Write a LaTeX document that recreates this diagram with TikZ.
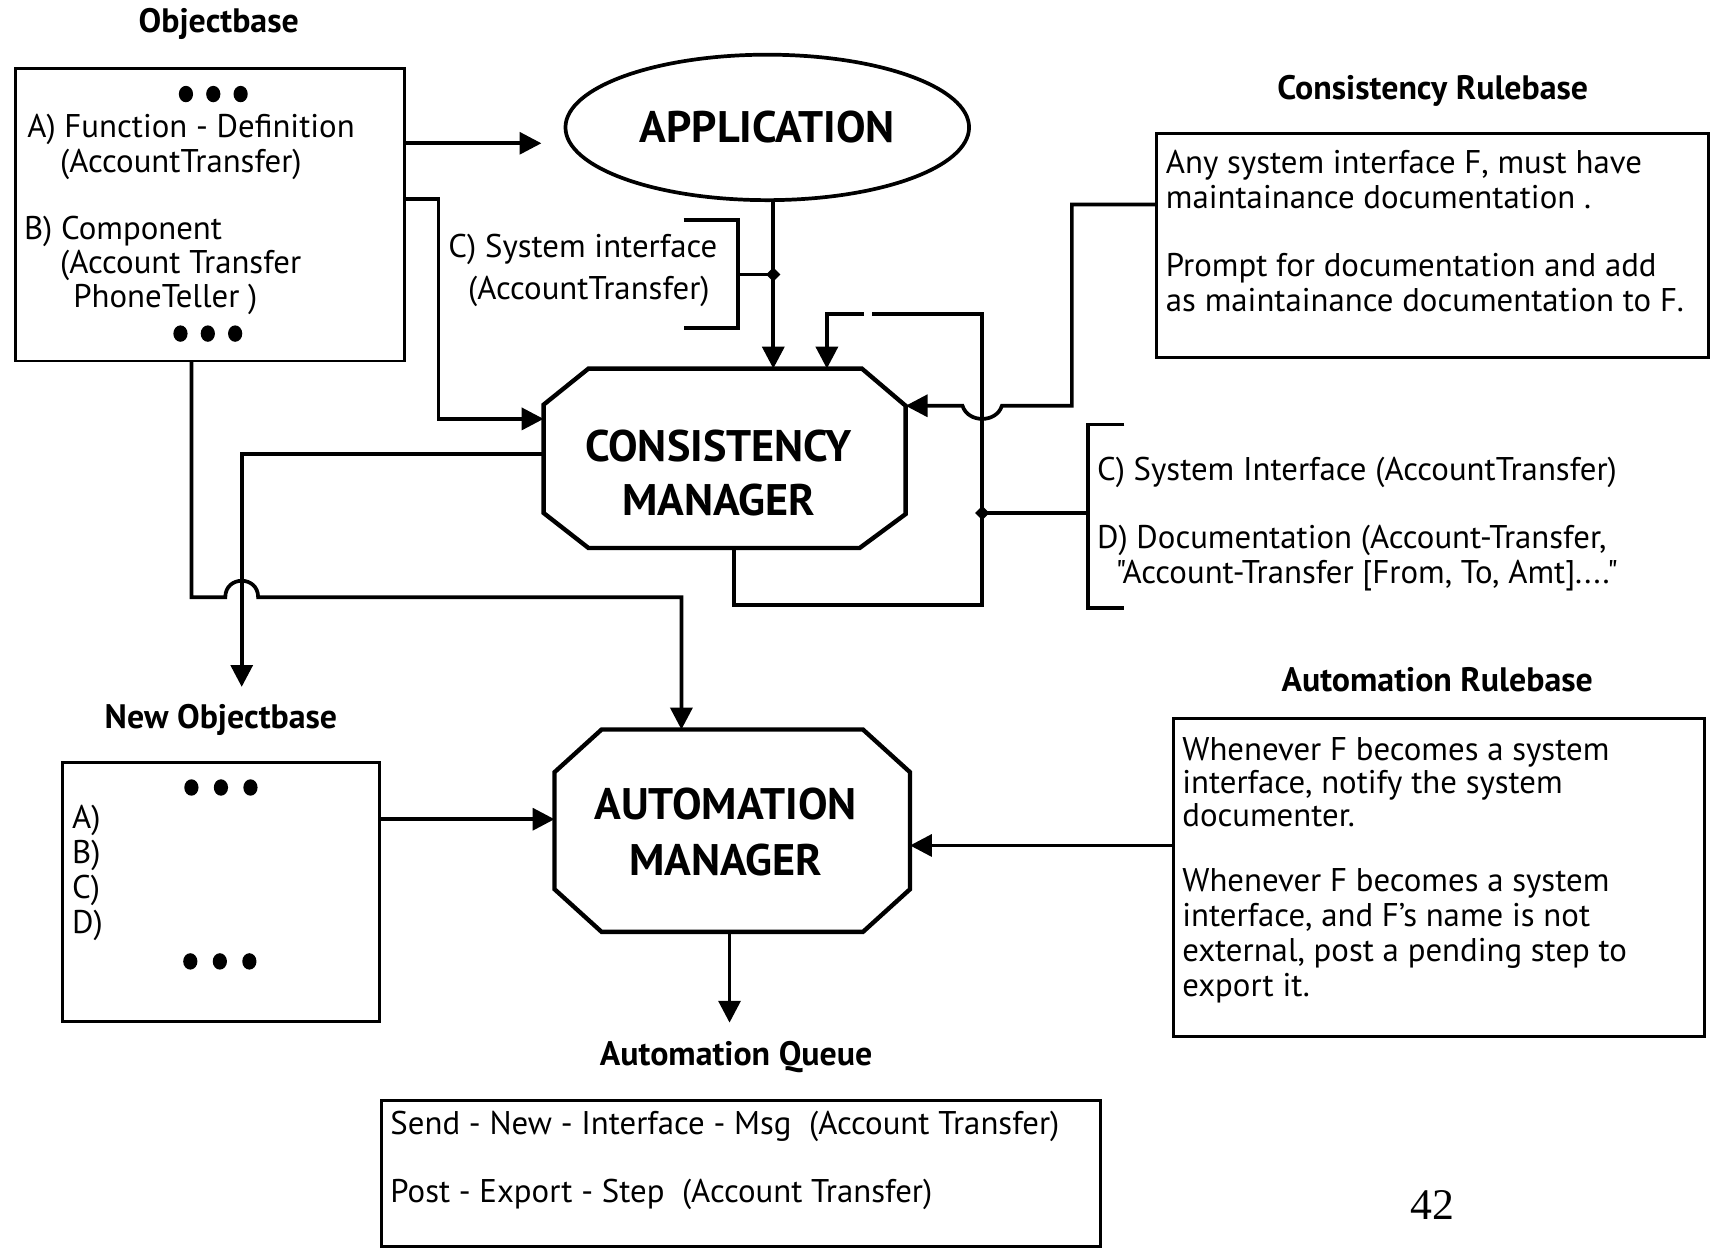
\documentclass[tikz,border=0pt]{standalone}
\usepackage{fontspec}
\setmainfont{PT Sans}[Ligatures=TeXOff]
\newfontfamily\pagenumfont{Liberation Serif}
\usetikzlibrary{arrows.meta,calc,shapes.geometric}
\begin{document}
\begin{tikzpicture}[x=0.5pt,y=-0.5pt,
  every node/.style={inner sep=0pt,outer sep=0pt},
  txt/.style={font=\fontsize{15}{16}\selectfont,anchor=west,align=left},
  hdr/.style={font=\fontsize{15.5}{18}\selectfont\bfseries},
  big/.style={font=\fontsize{20.2}{24.5}\selectfont\bfseries,align=center},
  boxA/.style={draw,line width=1.3pt},
  octo/.style={line width=2pt,line join=miter},
  ln/.style={line width=1.7pt},
  arr/.style={line width=1.7pt,-{Triangle[length=10pt,width=10pt]}},
  jdot/.style={fill,diamond,minimum size=6.5pt},
  bigdot/.style={fill,ellipse,minimum width=6.5pt,minimum height=7.5pt},
]
\useasboundingbox (0,0) rectangle (1568,1144);

% ---------- Objectbase ----------
\node[hdr] (obl) at (200,22) {Objectbase};
\node[boxA,minimum width=178pt,minimum height=133.5pt] (ob) at (192,196.5) {};
\node[bigdot] (obd1) at (170,86) {};
\node[bigdot] (obd2) at (195,86) {};
\node[bigdot] (obd3) at (220,86) {};
\node[txt] (oba1) at (25,118) {A) Function - Definition};
\node[txt] (oba2) at (55,150) {(AccountTransfer)};
\node[txt] (obb1) at (22,212) {B) Component};
\node[txt] (obb2) at (55,243) {(Account Transfer};
\node[txt] (obb3) at (67,274) {PhoneTeller )};
\node[bigdot] (obd4) at (165,305) {};
\node[bigdot] (obd5) at (190,305) {};
\node[bigdot] (obd6) at (215,305) {};

% ---------- Application ----------
\node[draw,ellipse,line width=1.7pt,minimum width=184.5pt,minimum height=66.5pt,big] (appl) at (701.5,116.5) {APPLICATION};

% ---------- Consistency manager ----------
\node[minimum width=165.5pt,minimum height=82pt] (cm) at (662.5,419) {};
\draw[octo] ($(cm.north west)+(41,0)$) -- ($(cm.north east)+(-40,0)$) -- ($(cm.north east)+(0,34)$)
  -- ($(cm.south east)+(0,-31)$) -- ($(cm.south east)+(-42,0)$) -- ($(cm.south west)+(41,0)$)
  -- ($(cm.south west)+(0,-32)$) -- ($(cm.north west)+(0,33)$) -- cycle;
\node[big] (cmt) at (657,432.5) {CONSISTENCY\\MANAGER};

% ---------- Automation manager ----------
\node[minimum width=162.5pt,minimum height=92.5pt] (am) at (669.5,759.5) {};
\draw[octo] ($(am.north west)+(43,0)$) -- ($(am.north east)+(-43,0)$) -- ($(am.north east)+(0,39)$)
  -- ($(am.south east)+(0,-39)$) -- ($(am.south east)+(-43,0)$) -- ($(am.south west)+(43,0)$)
  -- ($(am.south west)+(0,-39)$) -- ($(am.north west)+(0,39)$) -- cycle;
\node[big,font=\fontsize{20.2}{25.5}\selectfont\bfseries] (amt) at (663.5,760.5) {AUTOMATION\\MANAGER};

% ---------- C) System interface label ----------
\node[txt] (si1) at (410,228) {C) System interface};
\node[txt] (si2) at (428,266) {(AccountTransfer)};
\draw[ln] (625,201) -- (675,201) -- (675,300) -- (625,300);
\coordinate (j1) at (707,251);
\draw[ln] (675,251) -- (j1);
\node[jdot] (j1d) at (j1) {};

% ---------- Consistency Rulebase ----------
\node[hdr] (crl) at (1310,83) {Consistency Rulebase};
\node[boxA,minimum width=252.5pt,minimum height=102.5pt] (crb) at (1309.5,224.5) {};
\node[txt] (cr1) at (1066,164) {Any system interface F, must have\\maintainance documentation .};
\node[txt] (cr2) at (1066,258.5) {Prompt for documentation and add\\as maintainance documentation to F.};

% ---------- C/D bracket label ----------
\draw[ln] (1028,388) -- (995,388) -- (995,556) -- (1028,556);
\node[txt] (cd1) at (1003,432) {C) System Interface (AccountTransfer)};
\node[txt] (cd2) at (1003,494) {D) Documentation (Account-Transfer,};
\node[txt] (cd3) at (1020,526) {"Account-Transfer [From, To, Amt]...."};

% ---------- New Objectbase ----------
\node[hdr] (nobl) at (202,658) {New Objectbase};
\node[boxA,minimum width=145pt,minimum height=118.5pt] (nob) at (202,815.5) {};
\node[bigdot] (nd1) at (175,720) {};
\node[bigdot] (nd2) at (202,720) {};
\node[bigdot] (nd3) at (229,720) {};
\node[txt] (nabcd) at (66,798) {A)\\B)\\C)\\D)};
\node[bigdot] (nd4) at (174,879) {};
\node[bigdot] (nd5) at (201,879) {};
\node[bigdot] (nd6) at (228,879) {};

% ---------- Automation Rulebase ----------
\node[hdr] (arl) at (1314,621) {Automation Rulebase};
\node[boxA,minimum width=242.5pt,minimum height=145.5pt] (arb) at (1315.5,802.5) {};
\node[txt,font=\fontsize{15}{15}\selectfont] (ar1) at (1081,715) {Whenever F becomes a system\\interface, notify the system\\documenter.};
\node[txt] (ar2) at (1081,856) {Whenever F becomes a system\\interface, and F’s name is not\\external, post a pending step to\\export it.};

% ---------- Automation Queue ----------
\node[hdr] (aql) at (673,966) {Automation Queue};
\node[boxA,minimum width=328.5pt,minimum height=67pt] (aq) at (677.5,1073) {};
\node[txt] (aq1) at (357,1030) {Send - New - Interface - Msg\ \ (Account Transfer)};
\node[txt] (aq2) at (357,1092) {Post - Export - Step\ \ (Account Transfer)};

\node[font=\pagenumfont\fontsize{20}{22}\selectfont] (pg) at (1310,1102) {42};

% ---------- Connectors ----------
\coordinate (cA) at (495,131);
\draw[arr] (ob.east |- cA) -- (cA);

\coordinate (cB) at (401,182);
\coordinate (cB2) at (401,383);
\draw[arr] (ob.east |- cB) -- (cB) -- (cB2) -- (cm.west |- cB2);

\draw[ln] (j1 |- appl.south) -- (j1);
\draw[arr] (j1) -- (j1 |- cm.north);

% feedback loop from consistency manager
\coordinate (lb) at (671,553);
\coordinate (lp) at (898,553);
\coordinate (j2) at (898,469);
\coordinate (lpT) at (898,287);
\coordinate (gapR) at (797,287);
\coordinate (gapL) at (790,287);
\coordinate (gm) at (756,287);
\draw[ln] (lb |- cm.south) -- (lb) -- (lp) -- (lpT) -- (gapR);
\draw[arr] (gapL) -- (gm) -- (gm |- cm.north);
\node[jdot] (j2d) at (j2) {};
\coordinate (br2) at (995,469);
\draw[ln] (j2) -- (br2);

% consistency rulebase -> consistency manager (with hop)
\coordinate (r1) at (980,187);
\coordinate (r2) at (980,371);
\coordinate (h1) at (916,371);
\coordinate (h2) at (880,371);
\draw[arr] (crb.west |- r1) -- (r1) -- (r2) -- (h1) .. controls (911,387) and (885,387) .. (h2) -- (cm.east |- r2);

% consistency manager -> new objectbase
\coordinate (c8) at (221,415);
\coordinate (nobA) at (221,628);
\draw[arr] (cm.west |- c8) -- (c8) -- (nobA);

% objectbase -> automation manager (with hop)
\coordinate (c9) at (175,546);
\coordinate (c10) at (623,546);
\draw[arr] (ob.south -| c9) -- (c9) -- (206,546) .. controls (206,526) and (236,526) .. (236,546) -- (c10) -- (c10 |- am.north);

% new objectbase -> automation manager
\coordinate (c11) at (347,749);
\draw[arr] (nob.east |- c11) -- (am.west |- c11);

% automation rulebase -> automation manager
\coordinate (c12) at (1073,773);
\draw[arr] (arb.west |- c12) -- (am.east |- c12);

% automation manager -> queue
\coordinate (c13) at (667,935);
\draw[arr] (am.south -| c13) -- (c13);
\end{tikzpicture}
\end{document}
